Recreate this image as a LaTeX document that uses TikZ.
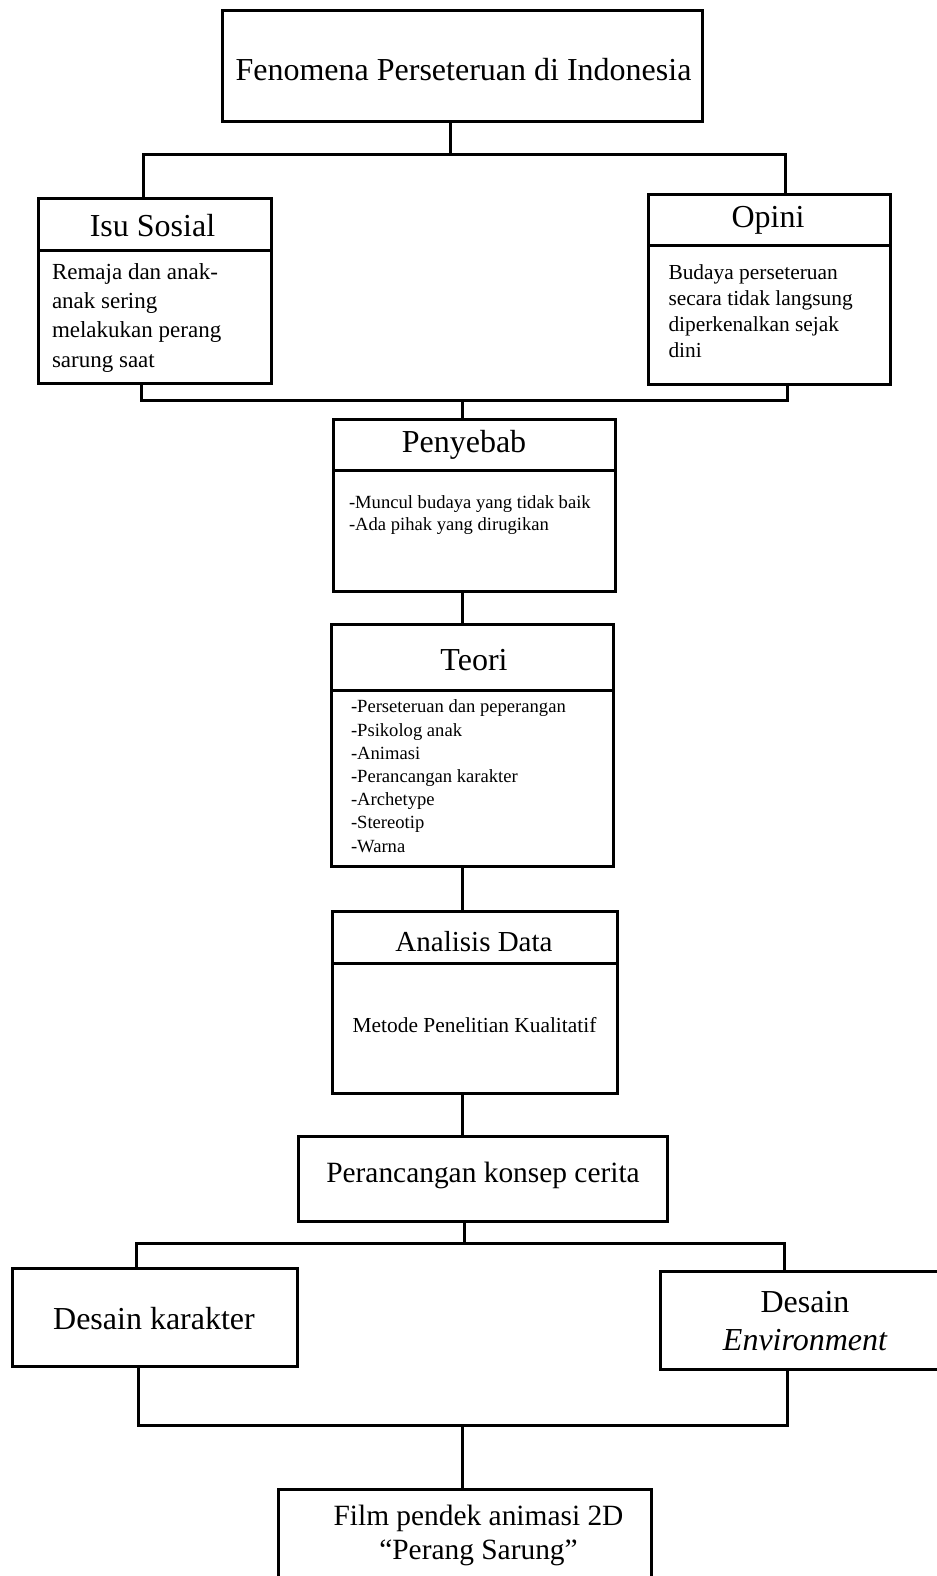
\documentclass[tikz,border=0pt]{standalone}
\usepackage{fontspec}
\setmainfont{Liberation Serif}
\newcommand\szTitle{\fontsize{16}{19}\selectfont}
\newcommand\szMid{\fontsize{14.7}{17}\selectfont}
\newcommand\szIsu{\fontsize{11.5}{14.6}\selectfont}
\newcommand\szOpi{\fontsize{10.7}{13}\selectfont}
\newcommand\szSmall{\fontsize{9.3}{11}\selectfont}
\newcommand\szTeo{\fontsize{9.3}{11.6}\selectfont}
\newcommand\szMet{\fontsize{10.7}{13}\selectfont}
\begin{document}
\begin{tikzpicture}[x=0.5pt,y=-0.5pt,
  box/.style={draw, line width=1.5pt, rectangle, inner sep=0pt, outer sep=0pt},
  lbl/.style={inner sep=0pt, outer sep=0pt, anchor=base},
  body/.style={inner sep=0pt, outer sep=0pt, anchor=base west, align=left},
  link/.style={draw, line width=1.5pt, line join=miter},
  divider/.style={draw, line width=1.5pt}]
\fill[white] (0,0) rectangle (937,1576);
\useasboundingbox (0,0) rectangle (937,1576);
\clip (0,0) rectangle (937,1576);

% boxes
\node[box, minimum width=240pt, minimum height=55.5pt] (top) at (462,65.5) {};
\node[box, minimum width=116.5pt, minimum height=92.5pt] (isu) at (154.5,290.5) {};
\node[box, minimum width=121pt, minimum height=95pt] (opini) at (769,289) {};
\node[box, minimum width=141pt, minimum height=86pt] (peny) at (474,505) {};
\node[box, minimum width=141pt, minimum height=121pt] (teori) at (472,745) {};
\node[box, minimum width=142.5pt, minimum height=91pt] (anal) at (474.5,1002) {};
\node[box, minimum width=184.5pt, minimum height=42.5pt] (peran) at (482.5,1178.5) {};
\node[box, minimum width=142.5pt, minimum height=49pt] (dk) at (154.5,1317) {};
\node[box, minimum width=142.5pt, minimum height=49pt] (de) at (802.5,1320) {};
\node[box, minimum width=186.5pt, minimum height=55.5pt] (film) at (464.5,1544.5) {};

% header dividers
\draw[divider] (isu.west |- 0,250) -- (isu.east |- 0,250);
\draw[divider] (opini.west |- 0,245) -- (opini.east |- 0,245);
\draw[divider] (peny.west |- 0,470) -- (peny.east |- 0,470);
\draw[divider] (teori.west |- 0,690) -- (teori.east |- 0,690);
\draw[divider] (anal.west |- 0,963) -- (anal.east |- 0,963);

% texts (multi-line bodies are placed by their last baseline)
\node[lbl, font=\szTitle] (topt) at (463.5,80) {Fenomena Perseteruan di Indonesia};
\node[lbl, font=\szTitle] (isut) at (152.5,236) {Isu Sosial};
\node[body, font=\szIsu] (isub) at (52,367) {Remaja dan anak-\\anak sering\\melakukan perang\\sarung saat};
\node[lbl, font=\szTitle] (opit) at (768,227) {Opini};
\node[body, font=\szOpi] (opib) at (668.5,357) {Budaya perseteruan\\secara tidak langsung\\diperkenalkan sejak\\dini};
\node[lbl, font=\szTitle] (penyt) at (464,452) {Penyebab};
\node[body, font=\szSmall] (penyb) at (349,530) {-Muncul budaya yang tidak baik\\-Ada pihak yang dirugikan};
\node[lbl, font=\szTitle] (teot) at (474,670) {Teori};
\node[body, font=\szTeo] (teob) at (351,852) {-Perseteruan dan peperangan\\-Psikolog anak\\-Animasi\\-Perancangan karakter\\-Archetype\\-Stereotip\\-Warna};
\node[lbl, font=\fontsize{14.5}{17}\selectfont] (analt) at (474,951) {Analisis Data};
\node[lbl, font=\szMet] (analb) at (474.5,1032) {Metode Penelitian Kualitatif};
\node[lbl, font=\szMid] (perant) at (483,1182) {Perancangan konsep cerita};
\node[lbl, font=\szTitle] (dkt) at (154,1329) {Desain karakter};
\node[lbl, font=\szTitle] (det1) at (805,1312) {Desain};
\node[lbl, font=\szTitle\itshape] (det2) at (805,1350) {Environment};
\node[lbl, font=\szMid] (film1) at (478.5,1525) {Film pendek animasi 2D};
\node[lbl, font=\szMid] (film2) at (478.5,1559) {``Perang Sarung''};

% junction coordinates
\coordinate (j1) at (450,154);
\coordinate (j1l) at (143,154);
\coordinate (j1r) at (785,154);
\coordinate (j2) at (462,400);
\coordinate (j2l) at (141,400);
\coordinate (j2r) at (787,400);
\coordinate (j3) at (464,1243);
\coordinate (j3l) at (136,1243);
\coordinate (j3r) at (784,1243);
\coordinate (j4) at (462,1425);
\coordinate (j4l) at (138,1425);
\coordinate (j4r) at (787,1425);

% connectors
\draw[link] (top.south -| j1) -- (j1);
\draw[link] (isu.north -| j1l) -- (j1l) -- (j1r) -- (opini.north -| j1r);
\draw[link] (isu.south -| j2l) -- (j2l) -- (j2r) -- (opini.south -| j2r);
\draw[link] (j2) -- (peny.north -| j2);
\draw[link] (peny.south -| j2) -- (teori.north -| j2);
\draw[link] (teori.south -| j2) -- (anal.north -| j2);
\draw[link] (anal.south -| j2) -- (peran.north -| j2);
\draw[link] (peran.south -| j3) -- (j3);
\draw[link] (dk.north -| j3l) -- (j3l) -- (j3r) -- (de.north -| j3r);
\draw[link] (dk.south -| j4l) -- (j4l) -- (j4r) -- (de.south -| j4r);
\draw[link] (j4) -- (film.north -| j4);
\end{tikzpicture}
\end{document}
